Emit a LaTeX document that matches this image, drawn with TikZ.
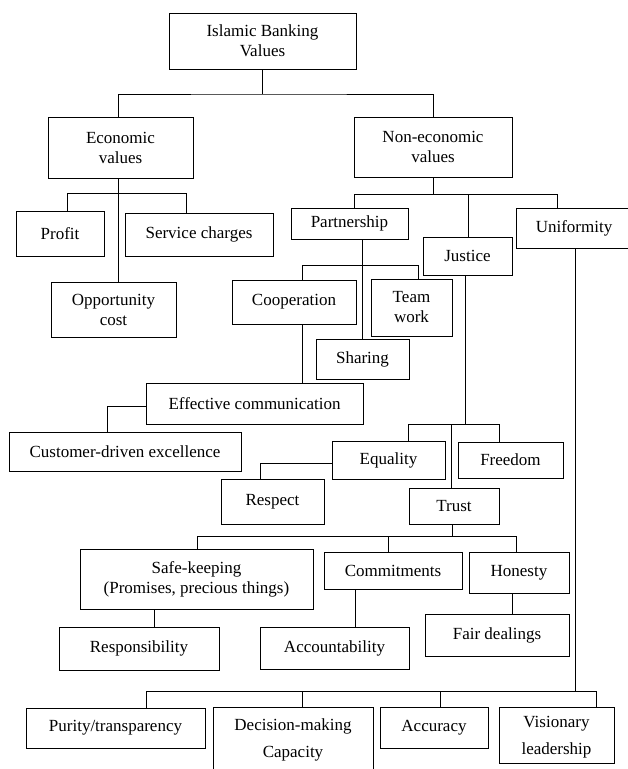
\documentclass[tikz,border=0pt]{standalone}
\usepackage{fontspec}
\setmainfont{Liberation Serif}
\begin{document}
\begin{tikzpicture}[x=1pt,y=-1pt,
  box/.style={draw,line width=0.9pt,inner sep=0pt,align=center,font=\fontsize{17}{20}\selectfont},
  txt/.style={inner sep=0pt,align=center,font=\fontsize{17}{20}\selectfont},
  wide/.style={font=\fontsize{17}{27}\selectfont},
  conn/.style={line width=0.9pt}]
\useasboundingbox (0,0) rectangle (628,769);
\clip (0,0) rectangle (628,769);
\fill[white] (0,0) rectangle (628,769);
% nodes
\node[box,minimum width=187,minimum height=56] (top) at (262.5,41) {Islamic Banking\\Values};
\node[box,minimum width=145,minimum height=61] (econ) at (120.5,147.5) {Economic\\values};
\node[box,minimum width=158,minimum height=60] (nonecon) at (433,147) {Non-economic\\values};
\node[box,minimum width=88,minimum height=45] (profit) at (60,233.5) {Profit};
\node[box,minimum width=148,minimum height=43] (service) at (199,234.5) {Service charges};
\node[box,minimum width=125,minimum height=55] (opp) at (113.5,309.5) {Opportunity\\cost};
\node[box,minimum width=117,minimum height=31] (partner) at (349.5,223.5) {Partnership};
\node[box,minimum width=89,minimum height=38] (justice) at (467.5,256) {Justice};
\node[box,minimum width=116,minimum height=40] (unif) at (574,228) {Uniformity};
\node[box,minimum width=124,minimum height=44] (coop) at (294,302) {Cooperation};
\node[box,minimum width=81,minimum height=57] (team) at (411.5,307.5) {Team\\work};
\node[box,minimum width=93,minimum height=40] (sharing) at (362.5,359) {Sharing};
\node[box,minimum width=217,minimum height=41] (eff) at (254.5,403.5) {Effective communication};
\node[box,minimum width=232,minimum height=39] (customer) at (125,451.5) {Customer-driven excellence};
\node[box,minimum width=113,minimum height=38] (equality) at (388.5,460) {Equality};
\node[box,minimum width=105,minimum height=36] (freedom) at (510.5,460) {Freedom};
\node[box,minimum width=103,minimum height=45] (respect) at (272.5,501.5) {Respect};
\node[box,minimum width=90,minimum height=36] (trust) at (454,506) {Trust};
\node[box,minimum width=233,minimum height=60] (safe) at (196.5,579) {Safe-keeping\\(Promises, precious things)};
\node[box,minimum width=138,minimum height=37] (commit) at (393,570.5) {Commitments};
\node[box,minimum width=100,minimum height=41] (honesty) at (519,572.5) {Honesty};
\node[box,minimum width=160,minimum height=43] (resp) at (139,648.5) {Responsibility};
\node[box,minimum width=149,minimum height=42] (acc) at (334.5,648) {Accountability};
\node[box,minimum width=144,minimum height=42] (fair) at (497,635) {Fair dealings};
\node[box,minimum width=179,minimum height=40] (purity) at (115.5,728) {Purity/transparency};
\node[box,minimum width=160,minimum height=100,anchor=north] (decision) at (293,707) {};
\node[txt,wide] (decisiontxt) at (293,740) {Decision-making\\Capacity};
\node[box,minimum width=108,minimum height=41] (accuracy) at (434,727.5) {Accuracy};
\node[box,wide,minimum width=115,minimum height=56] (vision) at (556.5,735) {};
\node[txt,wide] (visiontxt) at (556.5,737) {Visionary\\leadership};
% junction coordinates
\coordinate (j1) at (262,94);
\coordinate (e0) at (118,193);
\coordinate (e1) at (67,193);
\coordinate (e2) at (186,193);
\coordinate (n1) at (354,194);
\coordinate (n2) at (468,194);
\coordinate (n3) at (557,194);
\coordinate (u) at (575,691);
\coordinate (p0) at (362,265);
\coordinate (p1) at (302,265);
\coordinate (p2) at (418,265);
\coordinate (c1) at (107,406);
\coordinate (q0) at (465,424);
\coordinate (q1) at (408,424);
\coordinate (q2) at (499,424);
\coordinate (q3) at (451,424);
\coordinate (r1) at (260,463);
\coordinate (t0) at (452,536);
\coordinate (t1) at (197,536);
\coordinate (t2) at (388,536);
\coordinate (t3) at (516,536);
\coordinate (s1) at (154,618);
\coordinate (k1) at (355,608);
\coordinate (h1) at (512,603);
\coordinate (b1) at (146,691);
\coordinate (b2) at (302,691);
\coordinate (b3) at (440,691);
\coordinate (b4) at (596,691);
% connectors
\draw[conn] (top.south -| j1) -- (j1);
\draw[conn] (econ.north -| e0) |- (j1) -| (nonecon.north);
\draw[conn] (econ.south -| e0) -- (opp.north -| e0);
\draw[conn] (profit.north -| e1) -- (e1) -- (e2) -- (service.north -| e2);
\draw[conn] (nonecon.south) -- (nonecon.south |- n1);
\draw[conn] (partner.north -| n1) -- (n1) -- (n3) -- (unif.north -| n3);
\draw[conn] (n2) -- (justice.north -| n2);
\draw[conn] (unif.south -| u) -- (u);
\draw[conn] (partner.south -| p0) -- (sharing.north -| p0);
\draw[conn] (coop.north -| p1) -- (p1) -- (p2) -- (team.north -| p2);
\draw[conn] (coop.south -| p1) -- (eff.north -| p1);
\draw[conn] (eff.west |- c1) -- (c1) -- (customer.north -| c1);
\draw[conn] (justice.south -| q0) -- (q0);
\draw[conn] (equality.north -| q1) -- (q1) -- (q2) -- (freedom.north -| q2);
\draw[conn] (q3) -- (trust.north -| q3);
\draw[conn] (equality.west |- r1) -- (r1) -- (respect.north -| r1);
\draw[conn] (trust.south -| t0) -- (t0);
\draw[conn] (safe.north -| t1) -- (t1) -- (t3) -- (honesty.north -| t3);
\draw[conn] (t2) -- (commit.north -| t2);
\draw[conn] (safe.south -| s1) -- (resp.north -| s1);
\draw[conn] (commit.south -| k1) -- (acc.north -| k1);
\draw[conn] (honesty.south -| h1) -- (fair.north -| h1);
\draw[conn] (purity.north -| b1) -- (b1) -- (b4) -- (vision.north -| b4);
\draw[conn] (b2) -- (decision.north -| b2);
\draw[conn] (b3) -- (accuracy.north -| b3);
\end{tikzpicture}
\end{document}
